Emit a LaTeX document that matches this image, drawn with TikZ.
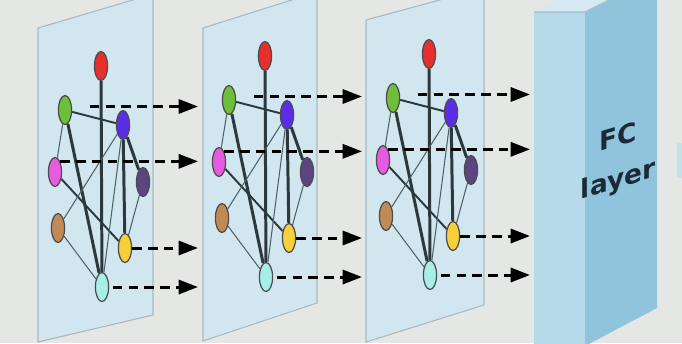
\documentclass[tikz,border=0pt]{standalone}
\usepackage{fontspec}
\newfontfamily\fcfont{DejaVu Sans}
\usetikzlibrary{arrows.meta,shapes.geometric}
\pgfdeclarelayer{panel}
\pgfdeclarelayer{links}
\pgfsetlayers{panel,links,main}
\definecolor{bgc}{HTML}{E4E7E4}
\definecolor{panelc}{HTML}{D2E6EF}
\definecolor{paneledge}{HTML}{A8B8C0}
\definecolor{fcfront}{HTML}{B7DAEA}
\definecolor{fcside}{HTML}{90C4DD}
\definecolor{fctop}{HTML}{D4E9F3}
\definecolor{fctext}{HTML}{1B2A38}
\definecolor{linkc}{HTML}{2B393D}
\definecolor{thinc}{HTML}{4D6166}
\definecolor{nred}{HTML}{E5302E}
\definecolor{ngreen}{HTML}{6DBE3A}
\definecolor{nblue}{HTML}{5A2EE8}
\definecolor{nmagenta}{HTML}{E65BE0}
\definecolor{npurple}{HTML}{5B4480}
\definecolor{nbrown}{HTML}{C08A55}
\definecolor{nyellow}{HTML}{F6CF3A}
\definecolor{ncyan}{HTML}{A6EEE6}
\tikzset{
  vtx/.style={ellipse,draw=black!70,line width=0.7pt,minimum width=7.5pt,minimum height=16.5pt,inner sep=0pt},
  heavyedge/.style={draw=linkc,line width=1.7pt},
  midedge/.style={draw=linkc,line width=1.1pt},
  lightedge/.style={draw=thinc,line width=0.6pt},
  flow/.style={->,line width=1.7pt,dash pattern=on 5.5pt off 3.5pt}
}
\begin{document}
\begin{tikzpicture}[x=0.02cm,y=-0.02cm,line join=round,>={Triangle[length=11pt,width=8pt]}]
\useasboundingbox (0,0) rectangle (682,343);
\clip (0,0) rectangle (682,343);
% graph panels
\begin{pgfonlayer}{panel}
\fill[bgc] (0,0) rectangle (682,343);
\foreach \xl/\xr/\ya/\yb/\yc/\yd in {38/153/28/-6/315/342, 203/317/28/-8/303/341, 366/484/20/-12/305/342}
  \filldraw[fill=panelc,draw=paneledge,line width=0.6pt] (\xl,\ya) -- (\xr,\yb) -- (\xr,\yc) -- (\xl,\yd) -- cycle;
\end{pgfonlayer}
% nodes of each graph
\foreach \p/\dx/\dy in {1/0/0, 2/164/-10, 3/328/-12}{
  \begin{scope}[shift={(\dx,\dy)}]
    \node[vtx,fill=nred] (r\p) at (101,66) {};
    \node[vtx,fill=ngreen] (g\p) at (65,110) {};
    \node[vtx,fill=nblue] (b\p) at (123,125) {};
    \node[vtx,fill=nmagenta] (m\p) at (55,172) {};
    \node[vtx,fill=npurple] (d\p) at (143,182) {};
    \node[vtx,fill=nbrown] (o\p) at (58,228) {};
    \node[vtx,fill=nyellow] (y\p) at (125,248) {};
    \node[vtx,fill=ncyan] (c\p) at (102,287) {};
  \end{scope}
}
\begin{pgfonlayer}{links}
\foreach \p in {1,2,3}{
  \draw[heavyedge] (r\p) -- (c\p);
  \draw[heavyedge] (g\p) -- (c\p);
  \draw[heavyedge] (b\p) -- (y\p);
  \draw[heavyedge] (b\p) -- (d\p);
  \draw[midedge] (m\p) -- (y\p);
  \draw[midedge] (g\p) -- (b\p);
  \draw[lightedge] (g\p) -- (m\p);
  \draw[lightedge] (o\p) -- (b\p);
  \draw[lightedge] (o\p) -- (c\p);
  \draw[lightedge] (b\p) -- (c\p);
  \draw[lightedge] (d\p) -- (y\p);
}
\end{pgfonlayer}
% FC layer block
\fill[fctop] (534,12) -- (585,12) -- (657,-24) -- (606,-24) -- cycle;
\fill[fcside] (585,12) -- (657,-24) -- (657,308) -- (585,346) -- cycle;
\fill[fcfront] (534,12) rectangle (585,350);
\draw[paneledge,line width=0.6pt] (534,12) -- (585,12) -- (657,-24);
\node[font=\fcfont\bfseries\fontsize{15}{24}\selectfont,text=fctext,align=center,yslant=0.3] (fclabel) at (618,160) {FC\\layer};
\fill[fcfront!85!white] (677,143) rectangle (690,178);
% dashed arrows between layers
\coordinate (t1) at (198,0);
\coordinate (t2) at (362,0);
\coordinate (t3) at (530,0);
\foreach \p in {1,2,3}{
  \draw[flow,shorten <=10pt] ([yshift=2pt]g\p.east) -- ([yshift=2pt]g\p.east -| t\p);
  \draw[flow] (m\p.north east) -- (m\p.north east -| t\p);
  \draw[flow] (y\p.east) -- (y\p.east -| t\p);
  \draw[flow,shorten <=2pt] (c\p.east) -- (c\p.east -| t\p);
}
\end{tikzpicture}
\end{document}
